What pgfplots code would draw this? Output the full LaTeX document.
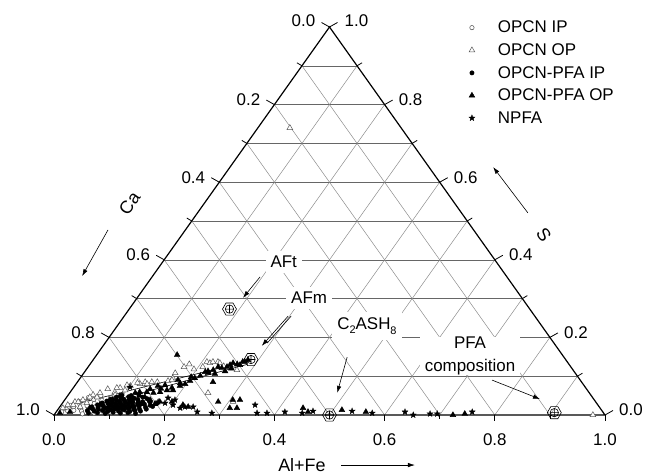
\documentclass[border=0pt]{standalone}
\usepackage{fontspec}
\setmainfont{Liberation Sans}
\usepackage{pgfplots}
\pgfplotsset{compat=1.18}
\usetikzlibrary{arrows.meta}
\newcommand{\fsz}{\fontsize{17}{21}\selectfont}
\newcommand{\fsb}{\fontsize{18}{21}\selectfont}

\pgfdeclareplotmark{fstar}{%
  \pgfpathmoveto{\pgfpointpolar{90}{\pgfplotmarksize}}%
  \pgfpathlineto{\pgfpointpolar{126}{0.42\pgfplotmarksize}}%
  \pgfpathlineto{\pgfpointpolar{162}{\pgfplotmarksize}}%
  \pgfpathlineto{\pgfpointpolar{198}{0.42\pgfplotmarksize}}%
  \pgfpathlineto{\pgfpointpolar{234}{\pgfplotmarksize}}%
  \pgfpathlineto{\pgfpointpolar{270}{0.42\pgfplotmarksize}}%
  \pgfpathlineto{\pgfpointpolar{306}{\pgfplotmarksize}}%
  \pgfpathlineto{\pgfpointpolar{342}{0.42\pgfplotmarksize}}%
  \pgfpathlineto{\pgfpointpolar{18}{\pgfplotmarksize}}%
  \pgfpathlineto{\pgfpointpolar{54}{0.42\pgfplotmarksize}}%
  \pgfpathclose
  \pgfusepathqfillstroke
}
\pgfdeclareplotmark{hexplus}{%
  \pgfpathmoveto{\pgfpointpolar{0}{\pgfplotmarksize}}%
  \pgfpathlineto{\pgfpointpolar{60}{\pgfplotmarksize}}%
  \pgfpathlineto{\pgfpointpolar{120}{\pgfplotmarksize}}%
  \pgfpathlineto{\pgfpointpolar{180}{\pgfplotmarksize}}%
  \pgfpathlineto{\pgfpointpolar{240}{\pgfplotmarksize}}%
  \pgfpathlineto{\pgfpointpolar{300}{\pgfplotmarksize}}%
  \pgfpathclose
  \pgfusepathqstroke
  \pgfpathcircle{\pgfpointorigin}{0.6\pgfplotmarksize}%
  \pgfpathmoveto{\pgfpoint{-0.6\pgfplotmarksize}{0pt}}%
  \pgfpathlineto{\pgfpoint{0.6\pgfplotmarksize}{0pt}}%
  \pgfpathmoveto{\pgfpoint{0pt}{-0.6\pgfplotmarksize}}%
  \pgfpathlineto{\pgfpoint{0pt}{0.6\pgfplotmarksize}}%
  \pgfusepathqstroke
}

\tikzset{
  gridc/.style={line width=0.5bp, black!45},
  gridh/.style={line width=0.5bp, black!60},
  axisc/.style={line width=1.2bp, black},
  arr/.style={line width=0.6bp, -{Latex[length=7bp,width=4.5bp]}},
}

\begin{document}
\begin{tikzpicture}
\path[use as bounding box] (-54bp,-61bp) rectangle (607bp,415bp);
\begin{axis}[
  at={(0,0)}, anchor=south west,
  scale only axis, width=551bp, height=388bp,
  xmin=0, xmax=1, ymin=0, ymax=1,
  axis lines=none, clip=false,
  font=\fsz,
  legend style={draw=none, fill=none, at={(axis cs:0.753,1.0155)}, anchor=north west,
    inner sep=0pt, outer sep=0pt, font=\fsz, nodes={inner sep=0pt},
    /tikz/row sep=9.3bp,
    /tikz/every odd column/.append style={column sep=23bp}},
  legend cell align=left,
  legend image code/.code={\draw[mark repeat=2,mark phase=2,#1] plot coordinates {(0bp,0bp)(4bp,0bp)(8bp,0bp)};},
]
% grid
\pgfplotsinvokeforeach{1,...,9}{
  \draw[gridh] (axis cs:{#1/20},{#1/10}) -- (axis cs:{1-#1/20},{#1/10});
  \draw[gridc] (axis cs:{#1/10},0) -- (axis cs:{#1/10+(1-#1/10)/2},{1-#1/10});
  \draw[gridc] (axis cs:{#1/10},0) -- (axis cs:{#1/20},{#1/10});
}
% frame
\draw[axisc] (axis cs:0,0) -- (axis cs:1,0) -- (axis cs:0.5,1) -- cycle;
% ticks
\pgfplotsinvokeforeach{0,2,...,10}{
  \draw[line width=0.8bp] (axis cs:{#1/10},0) -- ++(0,-6bp);
  \draw[line width=0.8bp] (axis cs:{#1/20},{#1/10}) -- ++(-8bp,4.5bp);
  \draw[line width=0.8bp] (axis cs:{1-#1/20},{#1/10}) -- ++(8bp,4.5bp);
}
\pgfplotsinvokeforeach{1,3,...,9}{
  \draw[line width=0.8bp] (axis cs:{#1/10},0) -- ++(0,-4bp);
  \draw[line width=0.8bp] (axis cs:{#1/20},{#1/10}) -- ++(-5bp,3bp);
  \draw[line width=0.8bp] (axis cs:{1-#1/20},{#1/10}) -- ++(5bp,3bp);
}
% tick labels
\node at (axis cs:0,0)   [yshift=-25bp] {0.0};
\node at (axis cs:0.2,0) [yshift=-25bp] {0.2};
\node at (axis cs:0.4,0) [yshift=-25bp] {0.4};
\node at (axis cs:0.6,0) [yshift=-25bp] {0.6};
\node at (axis cs:0.8,0) [yshift=-25bp] {0.8};
\node at (axis cs:1,0)   [yshift=-25bp] {1.0};
\node at (axis cs:0,0)     [xshift=-26bp,yshift=5bp] {1.0};
\node at (axis cs:0.1,0.2) [xshift=-26bp,yshift=5bp] {0.8};
\node at (axis cs:0.2,0.4) [xshift=-26bp,yshift=5bp] {0.6};
\node at (axis cs:0.3,0.6) [xshift=-26bp,yshift=5bp] {0.4};
\node at (axis cs:0.4,0.8) [xshift=-26bp,yshift=5bp] {0.2};
\node at (axis cs:0.5,1)   [xshift=-26bp,yshift=6bp] {0.0};
\node at (axis cs:1,0)     [xshift=26bp,yshift=5bp] {0.0};
\node at (axis cs:0.9,0.2) [xshift=26bp,yshift=5bp] {0.2};
\node at (axis cs:0.8,0.4) [xshift=26bp,yshift=5bp] {0.4};
\node at (axis cs:0.7,0.6) [xshift=26bp,yshift=5bp] {0.6};
\node at (axis cs:0.6,0.8) [xshift=26bp,yshift=5bp] {0.8};
\node at (axis cs:0.5,1)   [xshift=27bp,yshift=6bp] {1.0};
% axis titles
\node[rotate=54.6, inner sep=0pt] at (axis cs:0.137,0.545) {\fsb Ca};
\draw[arr] (axis cs:0.098,0.477) -- (axis cs:0.051,0.358);
\node[rotate=-54.6, inner sep=0pt] at (axis cs:0.889,0.464) {\fsb S};
\draw[arr] (axis cs:0.860,0.521) -- (axis cs:0.797,0.639);
\node at (axis cs:0.45,-0.129) {\fsb Al+Fe};
\draw[arr] (axis cs:0.521,-0.129) -- (axis cs:0.655,-0.129);
% annotation labels
\node[fill=white, inner sep=5bp] at (axis cs:0.417,0.394) {AFt};
\node[fill=white, inner sep=5bp] at (axis cs:0.463,0.302) {AFm};
\node[fill=white, inner sep=5bp] at (axis cs:0.568,0.229) {C\raisebox{-0.5ex}{\fontsize{11}{11}\selectfont 2}ASH\raisebox{-0.6ex}{\fontsize{11}{11}\selectfont 8}};
\node[fill=white, inner xsep=5bp, inner ysep=0bp, align=center, font=\fontsize{17}{23}\selectfont] at (axis cs:0.755,0.152) {PFA\\composition};

% data: a = Al+Fe, s = S (Ca = 1 - a - s)
\addplot[only marks, mark=*, mark size=2.2bp, mark options={draw=black!70, fill=white, line width=0.5bp}]
 table[row sep=\\, x expr=\thisrow{a}+0.5*\thisrow{s}, y=s] {
a s\\
0.010 0.008\\ 0.015 0.015\\ 0.020 0.010\\ 0.025 0.020\\ 0.030 0.012\\ 0.033 0.028\\
0.038 0.018\\ 0.042 0.035\\ 0.045 0.010\\ 0.048 0.024\\ 0.052 0.040\\ 0.055 0.015\\
0.058 0.030\\ 0.062 0.008\\ 0.065 0.022\\ 0.068 0.038\\ 0.072 0.014\\ 0.075 0.028\\
0.080 0.045\\ 0.083 0.010\\ 0.088 0.032\\ 0.092 0.020\\ 0.040 0.045\\ 0.028 0.035\\
0.018 0.025\\ 0.060 0.050\\ 0.070 0.005\\ 0.050 0.003\\
};
\addlegendentry{OPCN IP}
\addplot[only marks, mark=triangle*, mark size=3.3bp, mark options={draw=black!65, fill=white, line width=0.5bp}]
 table[row sep=\\, x expr=\thisrow{a}+0.5*\thisrow{s}, y=s] {
a s\\
0.064 0.067\\ 0.123 0.085\\ 0.145 0.085\\ 0.163 0.088\\ 0.168 0.095\\ 0.166 0.108\\
0.174 0.124\\ 0.180 0.131\\ 0.208 0.124\\ 0.209 0.137\\ 0.216 0.134\\ 0.220 0.137\\
0.229 0.137\\ 0.234 0.134\\ 0.274 0.116\\ 0.251 0.057\\ 0.308 0.034\\ 0.129 0.080\\
0.116 0.080\\ 0.101 0.075\\ 0.055 0.057\\ 0.045 0.052\\ 0.042 0.046\\ 0.033 0.039\\
0.021 0.034\\ 0.012 0.026\\ 0.085 0.070\\ 0.081 0.059\\ 0.097 0.064\\ 0.079 0.070\\
0.094 0.077\\ 0.110 0.083\\ 0.135 0.085\\ 0.055 0.046\\ 0.027 0.034\\ 0.022 0.026\\
0.007 0.018\\ 0.037 0.021\\ 0.044 0.031\\ 0.085 0.052\\ 0.169 0.090\\ 0.262 0.128\\
0.245 0.126\\ 0.195 0.118\\ 0.058 0.740\\ 0.978 0.000\\
};
\addlegendentry{OPCN OP}
\addplot[only marks, mark=*, mark size=2.2bp, mark options={draw=black, fill=black}]
 table[row sep=\\, x expr=\thisrow{a}+0.5*\thisrow{s}, y=s] {
a s\\
0.060 0.005\\ 0.076 0.006\\ 0.091 0.004\\ 0.104 0.007\\ 0.118 0.005\\ 0.131 0.006\\ 0.146 0.004\\
0.055 0.011\\ 0.068 0.010\\ 0.082 0.012\\ 0.093 0.009\\ 0.101 0.011\\ 0.112 0.010\\ 0.121 0.013\\
0.133 0.009\\ 0.141 0.012\\ 0.152 0.010\\ 0.062 0.016\\ 0.073 0.015\\ 0.085 0.017\\ 0.096 0.014\\
0.104 0.016\\ 0.109 0.018\\ 0.117 0.015\\ 0.126 0.017\\ 0.138 0.014\\ 0.147 0.016\\ 0.160 0.015\\
0.058 0.021\\ 0.070 0.020\\ 0.079 0.022\\ 0.088 0.019\\ 0.098 0.021\\ 0.103 0.023\\ 0.111 0.020\\
0.119 0.022\\ 0.128 0.019\\ 0.135 0.021\\ 0.143 0.023\\ 0.156 0.020\\ 0.168 0.022\\ 0.066 0.026\\
0.076 0.025\\ 0.086 0.027\\ 0.092 0.024\\ 0.101 0.026\\ 0.107 0.028\\ 0.114 0.025\\ 0.122 0.027\\
0.131 0.024\\ 0.140 0.026\\ 0.150 0.028\\ 0.162 0.025\\ 0.072 0.031\\ 0.083 0.030\\ 0.090 0.032\\
0.097 0.029\\ 0.105 0.031\\ 0.113 0.033\\ 0.120 0.030\\ 0.127 0.032\\ 0.137 0.029\\ 0.146 0.031\\
0.158 0.033\\ 0.172 0.030\\ 0.078 0.036\\ 0.088 0.035\\ 0.095 0.037\\ 0.102 0.034\\ 0.110 0.036\\
0.118 0.038\\ 0.125 0.035\\ 0.134 0.037\\ 0.144 0.034\\ 0.155 0.036\\ 0.085 0.041\\ 0.093 0.040\\
0.101 0.042\\ 0.108 0.039\\ 0.116 0.041\\ 0.124 0.043\\ 0.132 0.040\\ 0.148 0.042\\ 0.090 0.046\\
0.100 0.045\\ 0.112 0.047\\ 0.121 0.044\\ 0.138 0.046\\ 0.098 0.051\\ 0.115 0.050\\ 0.128 0.052\\
};
\addlegendentry{OPCN-PFA IP}
\addplot[only marks, mark=triangle*, mark size=3.3bp, mark options={draw=black, fill=black}]
 table[row sep=\\, x expr=\thisrow{a}+0.5*\thisrow{s}, y=s] {
a s\\
0.119 0.057\\ 0.126 0.059\\ 0.139 0.059\\ 0.152 0.057\\ 0.163 0.059\\ 0.173 0.064\\ 0.184 0.064\\
0.141 0.067\\ 0.151 0.075\\ 0.163 0.077\\ 0.179 0.070\\ 0.191 0.075\\ 0.198 0.080\\ 0.180 0.090\\
0.203 0.088\\ 0.208 0.095\\ 0.215 0.101\\ 0.219 0.111\\ 0.223 0.113\\ 0.231 0.116\\ 0.236 0.124\\
0.244 0.121\\ 0.252 0.124\\ 0.255 0.129\\ 0.258 0.134\\ 0.267 0.131\\ 0.273 0.129\\ 0.274 0.137\\
0.278 0.137\\ 0.281 0.142\\ 0.254 0.113\\ 0.239 0.106\\ 0.146 0.155\\ 0.246 0.085\\ 0.281 0.034\\
0.305 0.039\\ 0.318 0.039\\ 0.310 0.018\\ 0.323 0.018\\ 0.197 0.034\\ 0.121 0.034\\ 0.142 0.028\\
0.155 0.039\\ 0.169 0.028\\ 0.175 0.034\\ 0.142 0.046\\ 0.095 0.049\\ 0.082 0.039\\ 0.070 0.026\\
0.056 0.018\\ 0.025 0.008\\ 0.008 0.005\\ 0.443 0.018\\ 0.516 0.013\\ 0.562 0.008\\ 0.724 0.000\\
0.744 0.003\\ 0.457 0.008\\ 0.221 0.026\\ 0.233 0.021\\ 0.130 0.050\\ 0.160 0.068\\ 0.188 0.082\\
0.200 0.098\\ 0.226 0.108\\ 0.262 0.120\\
};
\addlegendentry{OPCN-PFA OP}
\addplot[only marks, mark=fstar, mark size=3.2bp, mark options={draw=black, fill=black, line width=0.3bp}]
 table[row sep=\\, x expr=\thisrow{a}+0.5*\thisrow{s}, y=s] {
a s\\
0.102 0.072\\ 0.172 0.034\\ 0.186 0.031\\ 0.203 0.026\\ 0.220 0.018\\ 0.227 0.021\\
0.242 0.021\\ 0.256 0.008\\ 0.284 0.005\\ 0.352 0.026\\ 0.366 0.005\\ 0.384 0.005\\
0.448 0.005\\ 0.465 0.010\\ 0.536 0.010\\ 0.575 0.005\\ 0.633 0.008\\ 0.652 0.000\\
0.681 0.003\\ 0.694 0.003\\ 0.755 0.008\\ 0.415 0.008\\ 0.185 0.044\\ 0.200 0.039\\
};
\addlegendentry{NPFA}
% reference compositions: AFt, AFm, C2ASH8, PFA
\addplot[forget plot, only marks, mark=hexplus, mark size=7bp, mark options={draw=black, line width=0.6bp}]
 table[row sep=\\, x expr=\thisrow{a}+0.5*\thisrow{s}, y=s] {
a s\\
0.182 0.273\\ 0.286 0.143\\ 0.500 0.000\\ 0.905 0.006\\
};
% tie lines
\draw[line width=0.6bp] (axis cs:0.047,0.031) -- (axis cs:0.352,0.139);
\draw[line width=0.6bp] (axis cs:0.083,0.028) -- (axis cs:0.352,0.131);
% arrows
\draw[arr] (axis cs:0.374,0.356) -- (axis cs:0.343,0.302);
\draw[arr] (axis cs:0.425,0.255) -- (axis cs:0.377,0.178);
\draw[line width=0.6bp] (axis cs:0.425,0.255) ++(3bp,0bp) -- ++(-24bp,-27bp);
\draw[arr] (axis cs:0.532,0.149) -- (axis cs:0.514,0.057);
\draw[arr] (axis cs:0.795,0.090) -- (axis cs:0.882,0.041);
\end{axis}
\end{tikzpicture}
\end{document}
